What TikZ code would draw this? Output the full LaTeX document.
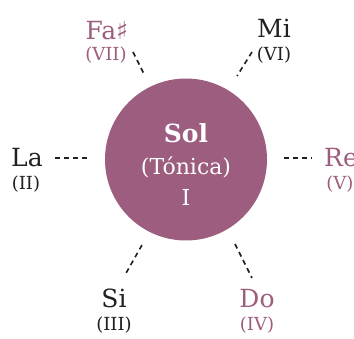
\documentclass[tikz,border=0pt]{standalone}
\usepackage{fontspec}
\setmainfont{DejaVu Serif}
\newfontfamily\symfont{DejaVu Sans}
\definecolor{tonic}{HTML}{9C5D7E}
\definecolor{ink}{HTML}{231F20}

\begin{document}
\begin{tikzpicture}[x=1pt,y=-1pt]
	\tikzstyle{every node}=[inner sep=0pt,anchor=base]
	\tikzstyle{note}=[font=\fontsize{25}{28}\selectfont]
	\tikzstyle{degree}=[font=\fontsize{18}{21}\selectfont]
	\tikzstyle{link}=[draw=ink,line width=1.6pt,dash pattern=on 5pt off 4pt]
	\useasboundingbox (0,0) rectangle (354,339);

	% The tonic circle
	\fill[tonic] (186,159.5) circle (81);
	\node[text=white,font=\fontsize{25}{28}\selectfont\bfseries] (sol) at (186,143) {Sol};
	\node[text=white,font=\fontsize{22}{25}\selectfont] (tonica) at (186,175) {(Tónica)};
	\node[text=white,font=\fontsize{22}{25}\selectfont] (grade) at (186,206) {I};

	% The notes round it
	\node[note,text=tonic] (fa) at (107,40) {Fa{\symfont ♯}};
	\node[degree,text=tonic] (fa-d) at (106,61) {(VII)};
	\node[note,text=ink] (mi) at (274,38) {Mi};
	\node[degree,text=ink] (mi-d) at (274,61) {(VI)};
	\node[note,text=ink] (la) at (27,167) {La};
	\node[degree,text=ink] (la-d) at (26,190) {(II)};
	\node[note,text=tonic] (re) at (341,167) {Re};
	\node[degree,text=tonic] (re-d) at (340,190) {(V)};
	\node[note,text=ink] (si) at (114,308) {Si};
	\node[degree,text=ink] (si-d) at (114,331) {(III)};
	\node[note,text=tonic] (do) at (257,308) {Do};
	\node[degree,text=tonic] (do-d) at (257,331) {(IV)};

	% Ends of the dashed links
	\coordinate (fa-a) at (133,52);  \coordinate (fa-b) at (144,74);
	\coordinate (mi-a) at (252,52);  \coordinate (mi-b) at (237,76);
	\coordinate (la-a) at (55,158);  \coordinate (la-b) at (90,158);
	\coordinate (re-a) at (284,158); \coordinate (re-b) at (312,158);
	\coordinate (si-a) at (142,245); \coordinate (si-b) at (125,275);
	\coordinate (do-a) at (235,244); \coordinate (do-b) at (252,278);

	% Draw the links
	\foreach \n in {fa,mi,la,re,si,do}
	\draw[link] (\n-a) -- (\n-b);
\end{tikzpicture}
\end{document}
